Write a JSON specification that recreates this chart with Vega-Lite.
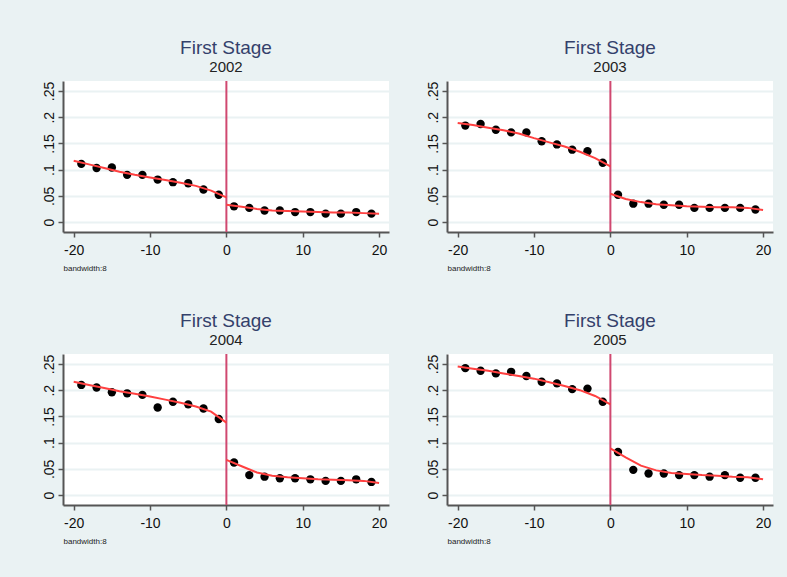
{
  "$schema": "https://vega.github.io/schema/vega-lite/v6.json",
  "background": "#EAF2F3",
  "padding": {"left": 42, "top": 39, "right": 14, "bottom": 33},
  "datasets": {
    "pts": [
      {"year": 2002, "x": -19, "y": 0.111}, {"year": 2002, "x": -17, "y": 0.103}, {"year": 2002, "x": -15, "y": 0.104}, {"year": 2002, "x": -13, "y": 0.090}, {"year": 2002, "x": -11, "y": 0.090},
      {"year": 2002, "x": -9, "y": 0.081}, {"year": 2002, "x": -7, "y": 0.076}, {"year": 2002, "x": -5, "y": 0.074}, {"year": 2002, "x": -3, "y": 0.062}, {"year": 2002, "x": -1, "y": 0.052},
      {"year": 2002, "x": 1, "y": 0.030}, {"year": 2002, "x": 3, "y": 0.027}, {"year": 2002, "x": 5, "y": 0.022}, {"year": 2002, "x": 7, "y": 0.022}, {"year": 2002, "x": 9, "y": 0.019},
      {"year": 2002, "x": 11, "y": 0.019}, {"year": 2002, "x": 13, "y": 0.016}, {"year": 2002, "x": 15, "y": 0.016}, {"year": 2002, "x": 17, "y": 0.019}, {"year": 2002, "x": 19, "y": 0.016},
      {"year": 2003, "x": -19, "y": 0.184}, {"year": 2003, "x": -17, "y": 0.187}, {"year": 2003, "x": -15, "y": 0.176}, {"year": 2003, "x": -13, "y": 0.171}, {"year": 2003, "x": -11, "y": 0.171},
      {"year": 2003, "x": -9, "y": 0.154}, {"year": 2003, "x": -7, "y": 0.148}, {"year": 2003, "x": -5, "y": 0.138}, {"year": 2003, "x": -3, "y": 0.135}, {"year": 2003, "x": -1, "y": 0.113},
      {"year": 2003, "x": 1, "y": 0.052}, {"year": 2003, "x": 3, "y": 0.035}, {"year": 2003, "x": 5, "y": 0.035}, {"year": 2003, "x": 7, "y": 0.033}, {"year": 2003, "x": 9, "y": 0.033},
      {"year": 2003, "x": 11, "y": 0.027}, {"year": 2003, "x": 13, "y": 0.027}, {"year": 2003, "x": 15, "y": 0.027}, {"year": 2003, "x": 17, "y": 0.027}, {"year": 2003, "x": 19, "y": 0.024},
      {"year": 2004, "x": -19, "y": 0.210}, {"year": 2004, "x": -17, "y": 0.205}, {"year": 2004, "x": -15, "y": 0.196}, {"year": 2004, "x": -13, "y": 0.194}, {"year": 2004, "x": -11, "y": 0.191},
      {"year": 2004, "x": -9, "y": 0.167}, {"year": 2004, "x": -7, "y": 0.178}, {"year": 2004, "x": -5, "y": 0.173}, {"year": 2004, "x": -3, "y": 0.165}, {"year": 2004, "x": -1, "y": 0.145},
      {"year": 2004, "x": 1, "y": 0.062}, {"year": 2004, "x": 3, "y": 0.038}, {"year": 2004, "x": 5, "y": 0.035}, {"year": 2004, "x": 7, "y": 0.032}, {"year": 2004, "x": 9, "y": 0.032},
      {"year": 2004, "x": 11, "y": 0.030}, {"year": 2004, "x": 13, "y": 0.027}, {"year": 2004, "x": 15, "y": 0.027}, {"year": 2004, "x": 17, "y": 0.030}, {"year": 2004, "x": 19, "y": 0.025},
      {"year": 2005, "x": -19, "y": 0.242}, {"year": 2005, "x": -17, "y": 0.237}, {"year": 2005, "x": -15, "y": 0.232}, {"year": 2005, "x": -13, "y": 0.235}, {"year": 2005, "x": -11, "y": 0.227},
      {"year": 2005, "x": -9, "y": 0.216}, {"year": 2005, "x": -7, "y": 0.213}, {"year": 2005, "x": -5, "y": 0.202}, {"year": 2005, "x": -3, "y": 0.203}, {"year": 2005, "x": -1, "y": 0.178},
      {"year": 2005, "x": 1, "y": 0.082}, {"year": 2005, "x": 3, "y": 0.048}, {"year": 2005, "x": 5, "y": 0.041}, {"year": 2005, "x": 7, "y": 0.041}, {"year": 2005, "x": 9, "y": 0.038},
      {"year": 2005, "x": 11, "y": 0.038}, {"year": 2005, "x": 13, "y": 0.035}, {"year": 2005, "x": 15, "y": 0.038}, {"year": 2005, "x": 17, "y": 0.033}, {"year": 2005, "x": 19, "y": 0.033}
    ],
    "fit": [
      {"year": 2002, "side": "L", "x": -20, "y": 0.117}, {"year": 2002, "side": "L", "x": -18, "y": 0.110}, {"year": 2002, "side": "L", "x": -16, "y": 0.103}, {"year": 2002, "side": "L", "x": -14, "y": 0.096}, {"year": 2002, "side": "L", "x": -12, "y": 0.090}, {"year": 2002, "side": "L", "x": -10, "y": 0.085}, {"year": 2002, "side": "L", "x": -8, "y": 0.080}, {"year": 2002, "side": "L", "x": -6, "y": 0.075}, {"year": 2002, "side": "L", "x": -4, "y": 0.069}, {"year": 2002, "side": "L", "x": -2, "y": 0.060}, {"year": 2002, "side": "L", "x": 0, "y": 0.047},
      {"year": 2002, "side": "R", "x": 0, "y": 0.033}, {"year": 2002, "side": "R", "x": 2, "y": 0.029}, {"year": 2002, "side": "R", "x": 4, "y": 0.025}, {"year": 2002, "side": "R", "x": 6, "y": 0.022}, {"year": 2002, "side": "R", "x": 8, "y": 0.021}, {"year": 2002, "side": "R", "x": 10, "y": 0.020}, {"year": 2002, "side": "R", "x": 12, "y": 0.019}, {"year": 2002, "side": "R", "x": 14, "y": 0.018}, {"year": 2002, "side": "R", "x": 16, "y": 0.018}, {"year": 2002, "side": "R", "x": 18, "y": 0.017}, {"year": 2002, "side": "R", "x": 20, "y": 0.016},
      {"year": 2003, "side": "L", "x": -20, "y": 0.189}, {"year": 2003, "side": "L", "x": -18, "y": 0.185}, {"year": 2003, "side": "L", "x": -16, "y": 0.180}, {"year": 2003, "side": "L", "x": -14, "y": 0.175}, {"year": 2003, "side": "L", "x": -12, "y": 0.169}, {"year": 2003, "side": "L", "x": -10, "y": 0.160}, {"year": 2003, "side": "L", "x": -8, "y": 0.152}, {"year": 2003, "side": "L", "x": -6, "y": 0.144}, {"year": 2003, "side": "L", "x": -4, "y": 0.134}, {"year": 2003, "side": "L", "x": -2, "y": 0.122}, {"year": 2003, "side": "L", "x": 0, "y": 0.106},
      {"year": 2003, "side": "R", "x": 0, "y": 0.054}, {"year": 2003, "side": "R", "x": 2, "y": 0.044}, {"year": 2003, "side": "R", "x": 4, "y": 0.038}, {"year": 2003, "side": "R", "x": 6, "y": 0.034}, {"year": 2003, "side": "R", "x": 8, "y": 0.032}, {"year": 2003, "side": "R", "x": 10, "y": 0.030}, {"year": 2003, "side": "R", "x": 12, "y": 0.029}, {"year": 2003, "side": "R", "x": 14, "y": 0.028}, {"year": 2003, "side": "R", "x": 16, "y": 0.028}, {"year": 2003, "side": "R", "x": 18, "y": 0.027}, {"year": 2003, "side": "R", "x": 20, "y": 0.023},
      {"year": 2004, "side": "L", "x": -20, "y": 0.216}, {"year": 2004, "side": "L", "x": -18, "y": 0.210}, {"year": 2004, "side": "L", "x": -16, "y": 0.204}, {"year": 2004, "side": "L", "x": -14, "y": 0.198}, {"year": 2004, "side": "L", "x": -12, "y": 0.193}, {"year": 2004, "side": "L", "x": -10, "y": 0.188}, {"year": 2004, "side": "L", "x": -8, "y": 0.182}, {"year": 2004, "side": "L", "x": -6, "y": 0.176}, {"year": 2004, "side": "L", "x": -4, "y": 0.169}, {"year": 2004, "side": "L", "x": -2, "y": 0.159}, {"year": 2004, "side": "L", "x": 0, "y": 0.138},
      {"year": 2004, "side": "R", "x": 0, "y": 0.067}, {"year": 2004, "side": "R", "x": 2, "y": 0.055}, {"year": 2004, "side": "R", "x": 4, "y": 0.043}, {"year": 2004, "side": "R", "x": 6, "y": 0.037}, {"year": 2004, "side": "R", "x": 8, "y": 0.034}, {"year": 2004, "side": "R", "x": 10, "y": 0.032}, {"year": 2004, "side": "R", "x": 12, "y": 0.030}, {"year": 2004, "side": "R", "x": 14, "y": 0.029}, {"year": 2004, "side": "R", "x": 16, "y": 0.028}, {"year": 2004, "side": "R", "x": 18, "y": 0.027}, {"year": 2004, "side": "R", "x": 20, "y": 0.023},
      {"year": 2005, "side": "L", "x": -20, "y": 0.245}, {"year": 2005, "side": "L", "x": -18, "y": 0.241}, {"year": 2005, "side": "L", "x": -16, "y": 0.237}, {"year": 2005, "side": "L", "x": -14, "y": 0.232}, {"year": 2005, "side": "L", "x": -12, "y": 0.227}, {"year": 2005, "side": "L", "x": -10, "y": 0.222}, {"year": 2005, "side": "L", "x": -8, "y": 0.215}, {"year": 2005, "side": "L", "x": -6, "y": 0.208}, {"year": 2005, "side": "L", "x": -4, "y": 0.200}, {"year": 2005, "side": "L", "x": -2, "y": 0.189}, {"year": 2005, "side": "L", "x": 0, "y": 0.173},
      {"year": 2005, "side": "R", "x": 0, "y": 0.089}, {"year": 2005, "side": "R", "x": 2, "y": 0.072}, {"year": 2005, "side": "R", "x": 4, "y": 0.056}, {"year": 2005, "side": "R", "x": 6, "y": 0.047}, {"year": 2005, "side": "R", "x": 8, "y": 0.042}, {"year": 2005, "side": "R", "x": 10, "y": 0.040}, {"year": 2005, "side": "R", "x": 12, "y": 0.038}, {"year": 2005, "side": "R", "x": 14, "y": 0.037}, {"year": 2005, "side": "R", "x": 16, "y": 0.035}, {"year": 2005, "side": "R", "x": 18, "y": 0.034}, {"year": 2005, "side": "R", "x": 20, "y": 0.030}
    ],
    "cut": [{"x": 0}]
  },
  "config": {
    "font": "Liberation Sans",
    "view": {"fill": "white", "stroke": null},
    "title": {"font": "Liberation Sans", "fontSize": 19, "fontWeight": "normal", "color": "#34416B", "subtitleFont": "Liberation Sans", "subtitleFontSize": 15, "subtitleColor": "#222222", "subtitlePadding": 2, "offset": 5, "anchor": "middle"},
    "axis": {"domainColor": "#555555", "domainWidth": 2, "tickColor": "#555555", "tickWidth": 1.5, "tickSize": 5, "labelFont": "Liberation Sans", "labelFontSize": 14, "labelColor": "#111111", "labelPadding": 2, "labelOverlap": false, "titleFont": "Liberation Sans", "titleFontWeight": "normal"},
    "axisX": {"labelExpr": "toString(datum.value)", "labelPadding": 6, "grid": false, "titleFontSize": 8, "titleAnchor": "start", "titleAlign": "left", "titlePadding": 7, "titleColor": "#222222"},
    "axisY": {"labelAngle": -90, "labelAlign": "center", "labelBaseline": "bottom", "grid": true, "gridColor": "#EAF2F3", "gridWidth": 2,
              "labelExpr": "datum.value == 0 ? '0' : replace(toString(round(datum.value*100)/100), '0.', '.')"}
  },
  "columns": 2,
  "spacing": {"column": 37, "row": 40},
  "concat": [
    {"title": {"text": "First Stage", "subtitle": "2002"}, "width": 326, "height": 151,
     "encoding": {
       "x": {"field": "x", "type": "quantitative", "scale": {"domain": [-21.4, 21.3], "nice": false, "zero": false}, "axis": {"values": [-20, -10, 0, 10, 20], "title": "bandwidth:8"}},
       "y": {"field": "y", "type": "quantitative", "scale": {"domain": [-0.019, 0.269], "nice": false, "zero": false}, "axis": {"values": [0, 0.05, 0.1, 0.15, 0.2, 0.25], "title": null}}
     },
     "layer": [
      {"data": {"name": "pts"}, "transform": [{"filter": "datum.year == 2002"}], "mark": {"type": "circle", "color": "black", "size": 70, "opacity": 1}},
      {"data": {"name": "cut"}, "mark": {"type": "rule", "color": "#D04870", "strokeWidth": 2}, "encoding": {"y": {"value": 0}, "y2": {"value": 151}}},
      {"data": {"name": "fit"}, "transform": [{"filter": "datum.year == 2002"}], "mark": {"type": "line", "color": "#FF4040", "strokeWidth": 2}, "encoding": {"detail": {"field": "side"}}}
     ]},
    {"title": {"text": "First Stage", "subtitle": "2003"}, "width": 326, "height": 151,
     "encoding": {
       "x": {"field": "x", "type": "quantitative", "scale": {"domain": [-21.4, 21.3], "nice": false, "zero": false}, "axis": {"values": [-20, -10, 0, 10, 20], "title": "bandwidth:8"}},
       "y": {"field": "y", "type": "quantitative", "scale": {"domain": [-0.019, 0.269], "nice": false, "zero": false}, "axis": {"values": [0, 0.05, 0.1, 0.15, 0.2, 0.25], "title": null}}
     },
     "layer": [
      {"data": {"name": "pts"}, "transform": [{"filter": "datum.year == 2003"}], "mark": {"type": "circle", "color": "black", "size": 70, "opacity": 1}},
      {"data": {"name": "cut"}, "mark": {"type": "rule", "color": "#D04870", "strokeWidth": 2}, "encoding": {"y": {"value": 0}, "y2": {"value": 151}}},
      {"data": {"name": "fit"}, "transform": [{"filter": "datum.year == 2003"}], "mark": {"type": "line", "color": "#FF4040", "strokeWidth": 2}, "encoding": {"detail": {"field": "side"}}}
     ]},
    {"title": {"text": "First Stage", "subtitle": "2004"}, "width": 326, "height": 151,
     "encoding": {
       "x": {"field": "x", "type": "quantitative", "scale": {"domain": [-21.4, 21.3], "nice": false, "zero": false}, "axis": {"values": [-20, -10, 0, 10, 20], "title": "bandwidth:8"}},
       "y": {"field": "y", "type": "quantitative", "scale": {"domain": [-0.019, 0.269], "nice": false, "zero": false}, "axis": {"values": [0, 0.05, 0.1, 0.15, 0.2, 0.25], "title": null}}
     },
     "layer": [
      {"data": {"name": "pts"}, "transform": [{"filter": "datum.year == 2004"}], "mark": {"type": "circle", "color": "black", "size": 70, "opacity": 1}},
      {"data": {"name": "cut"}, "mark": {"type": "rule", "color": "#D04870", "strokeWidth": 2}, "encoding": {"y": {"value": 0}, "y2": {"value": 151}}},
      {"data": {"name": "fit"}, "transform": [{"filter": "datum.year == 2004"}], "mark": {"type": "line", "color": "#FF4040", "strokeWidth": 2}, "encoding": {"detail": {"field": "side"}}}
     ]},
    {"title": {"text": "First Stage", "subtitle": "2005"}, "width": 326, "height": 151,
     "encoding": {
       "x": {"field": "x", "type": "quantitative", "scale": {"domain": [-21.4, 21.3], "nice": false, "zero": false}, "axis": {"values": [-20, -10, 0, 10, 20], "title": "bandwidth:8"}},
       "y": {"field": "y", "type": "quantitative", "scale": {"domain": [-0.019, 0.269], "nice": false, "zero": false}, "axis": {"values": [0, 0.05, 0.1, 0.15, 0.2, 0.25], "title": null}}
     },
     "layer": [
      {"data": {"name": "pts"}, "transform": [{"filter": "datum.year == 2005"}], "mark": {"type": "circle", "color": "black", "size": 70, "opacity": 1}},
      {"data": {"name": "cut"}, "mark": {"type": "rule", "color": "#D04870", "strokeWidth": 2}, "encoding": {"y": {"value": 0}, "y2": {"value": 151}}},
      {"data": {"name": "fit"}, "transform": [{"filter": "datum.year == 2005"}], "mark": {"type": "line", "color": "#FF4040", "strokeWidth": 2}, "encoding": {"detail": {"field": "side"}}}
     ]}
  ]
}
